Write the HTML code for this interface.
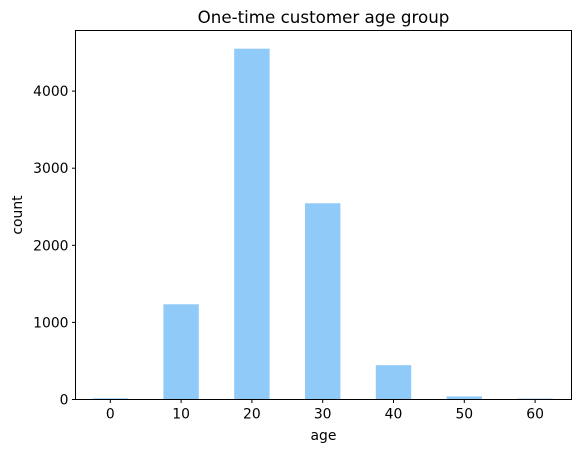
<!DOCTYPE html>
<html><head><meta charset="utf-8"><style>body{margin:0;background:#fff}svg{display:block;font-family:"DejaVu Sans","Liberation Sans",sans-serif}</style></head>
<body>
<svg id="chart" width="580" height="453"></svg>
<script>
const categories=[0,10,20,30,40,50,60];
const counts=[15,1235,4550,2545,445,40,12];
const yTicks=[0,1000,2000,3000,4000];
const xTicks=[0,10,20,30,40,50,60];
const L=75.5,R=571.5,T=30.5,B=399.5;
const xS=v=>110.3+(v-0)*7.08;
const yS=v=>B-v*0.0771;
const svg=document.getElementById('chart');
const NS='http://www.w3.org/2000/svg';
function mk(t,a,txt){const e=document.createElementNS(NS,t);for(const k in a)e.setAttribute(k,a[k]);if(txt!=null)e.textContent=txt;svg.appendChild(e);return e;}
categories.forEach((c,i)=>{const w=35.4;const r=mk('rect',{x:xS(c)-w/2,y:yS(counts[i]),width:w,height:B-yS(counts[i]),fill:'#90CAF9'});

});
const ax=mk('rect',{x:L,y:T,width:R-L,height:B-T,fill:'none',stroke:'#000','stroke-width':1});


yTicks.forEach(v=>{const y=yS(v);mk('line',{x1:L-3.5,x2:L,y1:y,y2:y,stroke:'#000'});const t=mk('text',{x:L-7,y:y+5,'text-anchor':'end','font-size':13.9},v);

});
xTicks.forEach(v=>{const x=xS(v);mk('line',{x1:x,x2:x,y1:B,y2:B+3.5,stroke:'#000'});const t=mk('text',{x:x,y:B+19,'text-anchor':'middle','font-size':13.9},v);

});
const ti=mk('text',{x:(L+R)/2,y:23,'text-anchor':'middle','font-size':16.7},'One-time customer age group');


const xl=mk('text',{x:(L+R)/2,y:440,'text-anchor':'middle','font-size':13.9},'age');


const yl=mk('text',{x:22,y:(T+B)/2,'text-anchor':'middle','font-size':13.9,transform:'rotate(-90 22 '+((T+B)/2)+')'},'count');


</script>
</body></html>
